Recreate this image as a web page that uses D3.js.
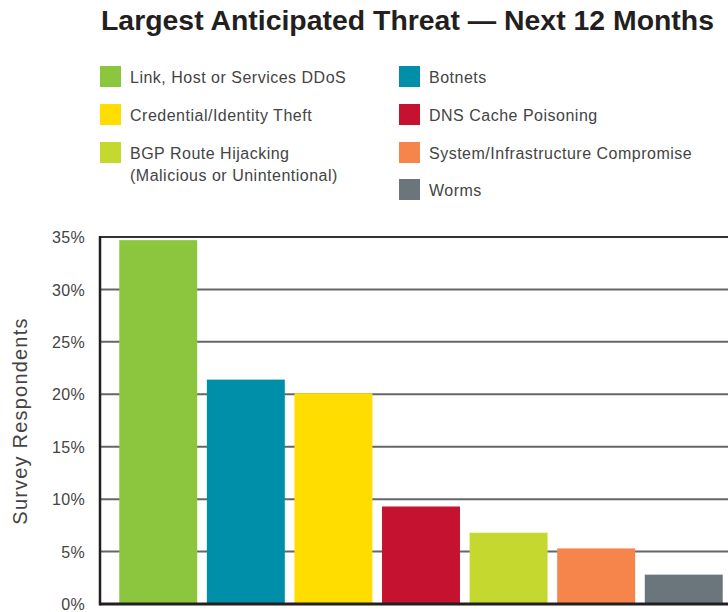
<!DOCTYPE html>
<html><head><meta charset="utf-8">
<script src="https://cdn.jsdelivr.net/npm/d3@7/dist/d3.min.js"></script>
<style>body{margin:0;background:#fff}svg{display:block}</style>
</head><body>
<script>
const categories = ["Link, Host or Services DDoS","Botnets","Credential/Identity Theft","DNS Cache Poisoning","BGP Route Hijacking (Malicious or Unintentional)","System/Infrastructure Compromise","Worms"];
const values = [34.7, 21.4, 20.1, 9.3, 6.8, 5.3, 2.8];
const colors = ["#8CC63F","#008FA9","#FFDD00","#C41230","#C4D82F","#F5854A","#6B767C"];
const yTicks = [0,5,10,15,20,25,30,35];
const legendCol1 = [["Link, Host or Services DDoS"],["Credential/Identity Theft"],["BGP Route Hijacking","(Malicious or Unintentional)"]];
const legendCol1Colors = ["#8CC63F","#FFDD00","#C4D82F"];
const legendCol2 = [["Botnets"],["DNS Cache Poisoning"],["System/Infrastructure Compromise"],["Worms"]];
const legendCol2Colors = ["#008FA9","#C41230","#F5854A","#6B767C"];
const title = "Largest Anticipated Threat \u2014 Next 12 Months";
const yTitle = "Survey Respondents";

const W = 728, H = 612;
const svg = d3.select("body").append("svg").attr("width", W).attr("height", H);
const font = "'Liberation Sans', Arial, sans-serif";

svg.append("text").attr("x", 101).attr("y", 30).attr("font-family", font)
  .attr("font-weight", "bold").attr("font-size", 27).attr("fill", "#231F20")
  .attr("textLength", 613).attr("lengthAdjust", "spacingAndGlyphs").text(title);

function legend(items, cols, x, ys) {
  items.forEach((lines, i) => {
    const y = ys[i];
    svg.append("rect").attr("x", x).attr("y", y - 10).attr("width", 21).attr("height", 21).attr("fill", cols[i]);
    lines.forEach((l, j) => {
      svg.append("text").attr("x", x + 30).attr("y", y + 7 + j * 22).attr("font-family", font)
        .attr("font-size", 16).attr("letter-spacing", 0.5).attr("fill", "#444").text(l);
    });
  });
}
legend(legendCol1, legendCol1Colors, 100, [76, 114, 152]);
legend(legendCol2, legendCol2Colors, 399, [76, 114, 152, 189]);

const y = d3.scaleLinear().domain([0, 35]).range([604, 237]);
const x = d3.scaleBand().domain(categories).range([100, 742]).paddingInner(0.11).paddingOuter(0.22);

// gridlines
svg.append("g").selectAll("line").data(yTicks.filter(d => d > 0)).join("line")
  .attr("x1", 100).attr("x2", W).attr("y1", d => y(d)).attr("y2", d => y(d))
  .attr("stroke", d => d === 35 ? "#333" : "#666").attr("stroke-width", 2);

// bars
svg.append("g").selectAll("rect").data(values).join("rect")
  .attr("x", (d, i) => x(categories[i])).attr("width", x.bandwidth())
  .attr("y", d => y(d)).attr("height", d => y(0) - y(d))
  .attr("fill", (d, i) => colors[i]);

// axes lines
svg.append("line").attr("x1", 100).attr("x2", W).attr("y1", y(0)).attr("y2", y(0)).attr("stroke", "#231F20").attr("stroke-width", 3);
svg.append("line").attr("x1", 100).attr("x2", 100).attr("y1", y(35) - 1).attr("y2", y(0) + 1.5).attr("stroke", "#231F20").attr("stroke-width", 2.5);

// tick labels
const yAxis = d3.axisLeft(y).tickValues(yTicks).tickFormat(d => d + "%").tickSize(0).tickPadding(0);
const ga = svg.append("g").attr("transform", "translate(85,0)").call(yAxis);
ga.select(".domain").remove();
ga.selectAll("text").attr("font-family", font).attr("font-size", 16).attr("letter-spacing", 0.3).attr("fill", "#444").attr("dy", "0.35em");

svg.append("text").attr("transform", `translate(27,${421}) rotate(-90)`).attr("text-anchor", "middle")
  .attr("font-family", font).attr("font-size", 20).attr("letter-spacing", 1.2).attr("fill", "#444").text(yTitle);
</script>
</body></html>
